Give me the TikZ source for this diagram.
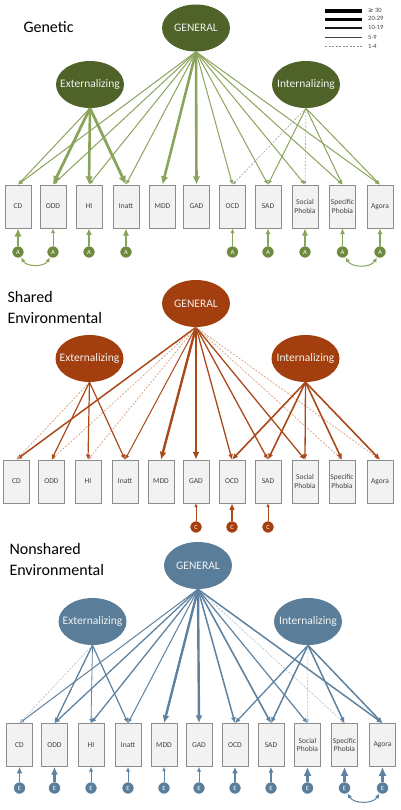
\documentclass[tikz,border=0pt]{standalone}
\usepackage{fontspec}
\setmainfont{Carlito}
\newfontfamily\symfont{DejaVu Sans}
\usetikzlibrary{arrows.meta,shapes.geometric}
\definecolor{cGdark}{HTML}{4F6228}
\definecolor{cGline}{HTML}{8BA45C}
\definecolor{cGdash}{HTML}{9AA490}
\definecolor{cGcirc}{HTML}{6E8B3D}
\definecolor{cSdark}{HTML}{A33F0E}
\definecolor{cSline}{HTML}{A9491A}
\definecolor{cSdash}{HTML}{D39470}
\definecolor{cNdark}{HTML}{5A7E99}
\definecolor{cNline}{HTML}{5E82A0}
\definecolor{cNdash}{HTML}{A9BCCB}
\definecolor{cBoxfill}{HTML}{F2F2F2}
\definecolor{cBoxdraw}{HTML}{8C8C8C}
\definecolor{cTxt}{HTML}{404040}
\begin{document}
\begin{tikzpicture}[x=1pt,y=-1pt,
  bx/.style={draw=cBoxdraw, fill=cBoxfill, line width=0.7pt, minimum width=26pt, minimum height=43pt, inner sep=0pt, align=center, font=\fontsize{7.5}{8.5}\selectfont, text=cTxt},
  fac/.style={ellipse, minimum width=68pt, minimum height=47pt, inner xsep=-12pt, inner ysep=0pt, text=white!90!gray, font=\fontsize{11.5}{13}\selectfont},
  fcirc/.style={circle, minimum size=12pt, inner sep=0pt, draw=white, line width=0.5pt, text=white, font=\fontsize{6.5}{6.5}\selectfont},
  arr/.style={-{Latex[length=2.5pt 2.2,width=2.2pt 2]}},
  darr/.style={{Latex[length=2.5pt 2.2,width=2.2pt 2]}-{Latex[length=2.5pt 2.2,width=2.2pt 2]}},
  gS/.style={draw=cGline, arr},
  gD/.style={draw=cGdash, arr, dash pattern=on 2pt off 1.5pt},
  sS/.style={draw=cSline, arr},
  sD/.style={draw=cSdash, arr, dash pattern=on 2pt off 1.5pt},
  nS/.style={draw=cNline, arr},
  nD/.style={draw=cNdash, arr, dash pattern=on 2pt off 1.5pt},
  ttl/.style={anchor=west, align=left, font=\fontsize{16}{21}\selectfont},
  leg/.style={anchor=west, inner sep=0pt, text=cTxt, font=\fontsize{6.5}{7}\selectfont}
]
\useasboundingbox (0,0) rectangle (400,810);

% ---------- Legend ----------
\draw[line width=3.6pt, black] (325,11) -- (362,11);
\draw[line width=2.6pt, black] (325,19.3) -- (362,19.3);
\draw[line width=2pt, black!90] (325,27.7) -- (362,27.7);
\draw[line width=1.4pt, black!75] (325,37.3) -- (362,37.3);
\draw[line width=0.5pt, black!45, dash pattern=on 2pt off 1.5pt] (325,46) -- (362,46);
\node[leg] (l1) at (368,10) {{\symfont ≥} 30};
\node[leg] (l2) at (368,18.8) {20-29};
\node[leg] (l3) at (368,27.5) {10-19};
\node[leg] (l4) at (368,37) {5-9};
\node[leg] (l5) at (368,46) {1-4};

% ---------- Genetic ----------
\node[ttl] (tg) at (20,27) {Genetic};
\node[fac, fill=cGdark] (gG) at (196,28) {GENERAL};
\node[fac, fill=cGdark] (gE) at (90,84.5) {Externalizing};
\node[fac, fill=cGdark] (gI) at (306,84.5) {Internalizing};
\foreach \i/\x/\l in {1/18/CD,2/53/ODD,3/89/HI,4/126/Inatt,5/162.5/MDD,6/196.5/GAD,7/232.5/OCD,8/268/SAD,9/305/{Social\\Phobia},10/342.5/{Specific\\Phobia},11/380/Agora}
  \node[bx] (g\i) at (\x,206.5) {\l};
\foreach \i/\x in {1/18,2/53,3/89,4/126,7/232.5,8/268,9/305,10/342.5,11/380}
  \node[fcirc, fill=cGcirc] (gA\i) at (\x,252) {A};
\foreach \t/\w/\k in {1/1.0/gS,2/1.0/gS,3/1.0/gS,4/1.0/gS,5/2.6/gS,6/2.6/gS,7/1.0/gS,8/1.0/gS,9/1.0/gS,10/1.0/gS,11/1.0/gS}
  \draw[\k, line width=\w pt] (gG.south) -- (g\t.north);
\foreach \t/\w/\k in {1/1.0/gS,2/2.8/gS,3/2.6/gS,4/2.8/gS}
  \draw[\k, line width=\w pt] (gE.south) -- (g\t.north);
\foreach \t/\w/\k in {7/0.6/gD,8/1.0/gS,9/0.6/gD,10/1.0/gS,11/1.0/gS}
  \draw[\k, line width=\w pt] (gI.south) -- (g\t.north);
\foreach \t/\w in {1/2.6,2/1.0,3/1.8,4/2.2,7/1.0,8/1.5,9/2.2,10/1.5,11/1.5}
  \draw[gS, line width=\w pt] (gA\t) -- (g\t.south);
\draw[draw=cGline, darr, line width=1pt] (gA1.-60) to[out=-60,in=-120] (gA2.-120);
\draw[draw=cGline, darr, line width=1pt] (gA10.-60) to[out=-60,in=-120] (gA11.-120);

% ---------- Shared Environmental ----------
\node[ttl] (ts) at (4,307.5) {Shared\\Environmental};
\node[fac, fill=cSdark] (sG) at (196,303.5) {GENERAL};
\node[fac, fill=cSdark] (sE) at (89.5,358.5) {Externalizing};
\node[fac, fill=cSdark] (sI) at (305.5,358.5) {Internalizing};
\foreach \i/\x/\l in {1/16.5/CD,2/51.5/ODD,3/88/HI,4/125/Inatt,5/161/MDD,6/196/GAD,7/232/OCD,8/268/SAD,9/305/{Social\\Phobia},10/342/{Specific\\Phobia},11/380/Agora}
  \node[bx] (s\i) at (\x,481.5) {\l};
\foreach \i/\x in {6/196,7/232,8/268}
  \node[fcirc, fill=cSdark] (sC\i) at (\x,527) {C};
\foreach \t/\w/\k in {1/1.5/sS,2/0.6/sD,3/0.6/sD,4/1.0/sS,5/2.4/sS,6/2.4/sS,7/1.3/sS,8/1.3/sS,9/1.3/sS,10/0.6/sD,11/0.6/sD}
  \draw[\k, line width=\w pt] (sG.south) -- (s\t.north);
\foreach \t/\w/\k in {1/0.6/sD,2/1.2/sS,3/1.2/sS,4/1.2/sS}
  \draw[\k, line width=\w pt] (sE.south) -- (s\t.north);
\foreach \t/\w/\k in {7/1.6/sS,8/1.6/sS,9/1.3/sS,10/1.6/sS,11/1.6/sS}
  \draw[\k, line width=\w pt] (sI.south) -- (s\t.north);
\foreach \t/\w in {6/0.6,7/1.8,8/0.6}
  \draw[sS, line width=\w pt] (sC\t) -- (s\t.south);

% ---------- Nonshared Environmental ----------
\node[ttl] (tn) at (6,559.5) {Nonshared\\Environmental};
\node[fac, fill=cNdark] (nG) at (198,565.5) {GENERAL};
\node[fac, fill=cNdark] (nE) at (92.5,621.5) {Externalizing};
\node[fac, fill=cNdark] (nI) at (308,621.5) {Internalizing};
\foreach \i/\x/\l in {1/19.5/CD,2/54.5/ODD,3/91/HI,4/128/Inatt,5/164/MDD,6/199/GAD,7/235/OCD,8/271/SAD,9/307.5/{Social\\Phobia},10/344.5/{Specific\\Phobia},11/382.5/Agora}
  \node[bx] (n\i) at (\x,745) {\l};
\foreach \i/\x in {1/19.5,2/54.5,3/91,4/128,5/164,6/199,7/235,8/271,9/307.5,10/344.5,11/382.5}
  \node[fcirc, fill=cNdark] (nA\i) at (\x,788) {E};
\foreach \t/\w/\k in {1/1.0/nS,2/1.3/nS,3/1.3/nS,4/1.0/nS,5/2.4/nS,6/2.4/nS,7/1.5/nS,8/1.6/nS,9/1.2/nS,10/0.6/nD,11/1.5/nS}
  \draw[\k, line width=\w pt] (nG.south) -- (n\t.north);
\foreach \t/\w/\k in {1/0.6/nD,2/1.3/nS,3/0.8/nS,4/1.2/nS}
  \draw[\k, line width=\w pt] (nE.south) -- (n\t.north);
\foreach \t/\w/\k in {7/1.3/nS,8/1.5/nS,9/0.6/nD,10/1.5/nS,11/1.5/nS}
  \draw[\k, line width=\w pt] (nI.south) -- (n\t.north);
\foreach \t/\w in {1/1.8,2/2.4,3/1.0,4/1.0,5/0.8,6/1.0,7/1.8,8/1.5,9/3.0,10/3.0,11/3.0}
  \draw[nS, line width=\w pt] (nA\t) -- (n\t.south);
\draw[draw=cNline, darr, line width=1pt] (nA10.-60) to[out=-60,in=-120] (nA11.-120);
\end{tikzpicture}
\end{document}
